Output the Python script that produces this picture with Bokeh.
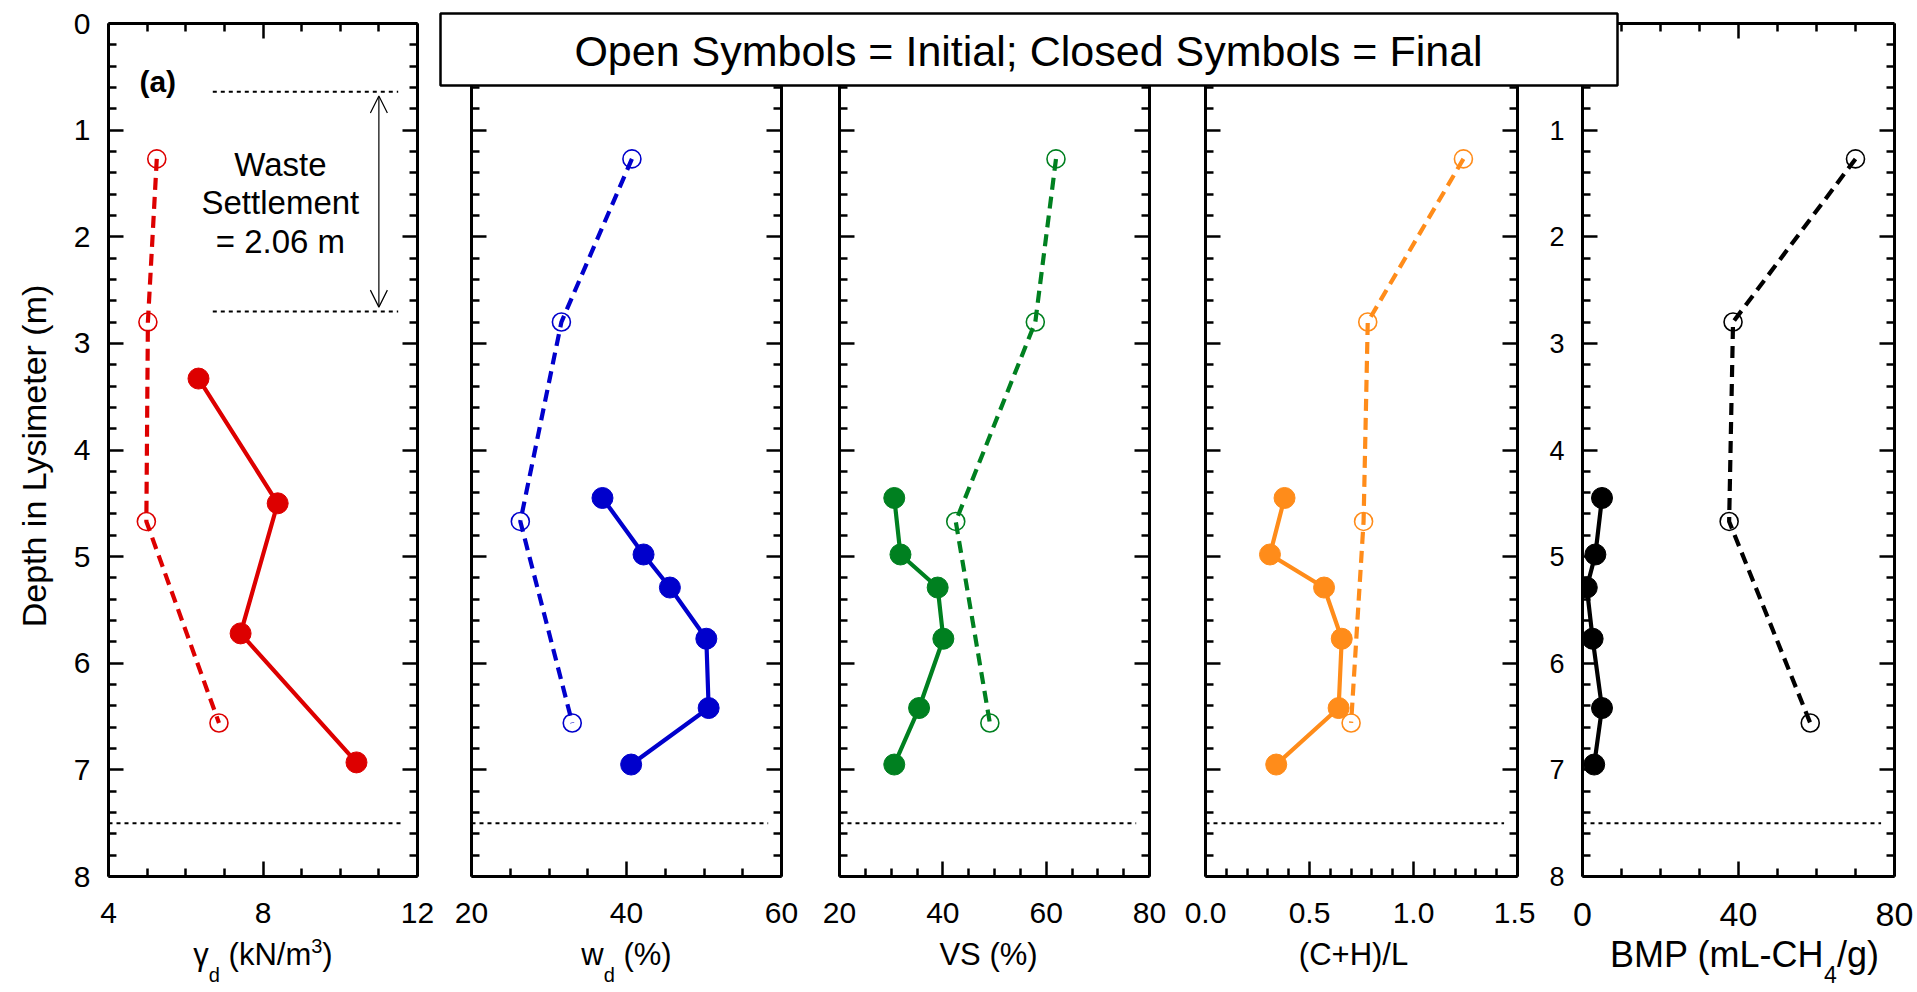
import math

from bokeh.plotting import figure
from bokeh.models import (Range1d, LinearAxis, FixedTicker, Label, Arrow,
                          OpenHead, NumeralTickFormatter)
from bokeh.layouts import row, column
from bokeh.embed import file_html
from bokeh.resources import INLINE

# ---------------------------------------------------------------- data
# sampling depths in the lysimeter (m)
depth_initial = [1.27, 2.80, 4.67, 6.56]
depth_final_unit_weight = [3.33, 4.50, 5.72, 6.93]
depth_final = [4.45, 4.98, 5.29, 5.77, 6.42, 6.95]

# dry unit weight (kN/m3)
unit_weight_initial = [5.25, 5.02, 4.98, 6.86]
unit_weight_final = [6.33, 8.38, 7.42, 10.42]
# gravimetric water content, dry basis (%)
water_initial = [40.7, 31.6, 26.3, 33.0]
water_final = [36.9, 42.2, 45.6, 50.3, 50.6, 40.6]
# volatile solids (%)
vs_initial = [61.9, 57.9, 42.5, 49.1]
vs_final = [30.6, 31.8, 39.0, 40.1, 35.4, 30.6]
# (cellulose + hemicellulose) / lignin
chl_initial = [1.24, 0.78, 0.76, 0.70]
chl_final = [0.38, 0.31, 0.57, 0.655, 0.64, 0.34]
# biochemical methane potential (mL-CH4/g)
bmp_initial = [70.0, 38.6, 37.6, 58.4]
bmp_final = [5.0, 3.3, 1.1, 2.6, 5.0, 3.0]

# waste surface before / after settlement and base of the waste (m)
surface_depths = [0.64, 2.70]
base_depth = 7.50

# axis ticks
depth_ticks = [0, 1, 2, 3, 4, 5, 6, 7, 8]
unit_weight_ticks = [4, 8, 12]
water_ticks = [20, 40, 60]
vs_ticks = [20, 40, 60, 80]
chl_ticks = [0.0, 0.5, 1.0, 1.5]
bmp_ticks = [0, 40, 80]

legend_text = "Open Symbols = Initial; Closed Symbols = Final"
depth_title = "Depth in Lysimeter (m)"

# ---------------------------------------------------------------- layout / style
FONT = "Liberation Sans"
PAGE_W, PAGE_H = 1917, 992
FRAME_TOP = 23
FRAME_BOTTOM = 876
TICK_FS = "30px"
TITLE_FS = 31
SMALL_FS = 20

# panel canvases: (canvas width, left border, right border); frames are placed
# side by side at these pixel offsets
PANEL_GEOM = [(444, 108, 27), (366, 27, 29), (367, 29, 28), (358, 28, 18), (382, 47, 23)]

# approximate advance widths (1/1000 em) used to lay out mixed-size titles
ADV = {' ': 278, '%': 889, '(': 333, ')': 333, '+': 584, '-': 333, '/': 278,
       '.': 278, 'B': 667, 'C': 722, 'H': 722, 'L': 556, 'M': 833, 'N': 722,
       'P': 667, 'S': 667, 'V': 667, 'd': 556, 'g': 556, 'k': 500, 'm': 833,
       'w': 722, 'γ': 500}
for _c in "0123456789":
    ADV[_c] = 556


def text_width(s, size):
    return sum(ADV.get(c, 556) for c in s) * size / 1000.0


def minor_list(lo, hi, step, majors):
    n = int(round((hi - lo) / step))
    vals = [round(lo + i * step, 6) for i in range(n + 1)]
    return [v for v in vals if all(abs(v - m) > 1e-9 for m in majors)]


def make_axis(ticker, show_labels, size=TICK_FS, standoff=18, formatter=None):
    kw = dict(ticker=ticker, axis_line_width=3, axis_line_color="black",
              major_tick_in=15, major_tick_out=0, minor_tick_in=8, minor_tick_out=0,
              major_tick_line_width=2.5, minor_tick_line_width=2.5,
              major_tick_line_color="black", minor_tick_line_color="black",
              major_label_text_font=FONT)
    if show_labels:
        kw.update(major_label_text_font_size=size, major_label_text_color="black",
                  major_label_standoff=standoff)
    else:
        # mirrored axis: tick marks only
        kw.update(major_label_text_font_size="8px", major_label_text_color=None,
                  major_label_standoff=0)
    if formatter is not None:
        kw["formatter"] = formatter
    return LinearAxis(**kw)


def make_panel(geom, xlim, xticks, xstep, y_labels, y_major,
               y_label_size=TICK_FS, x_label_size=TICK_FS, formatter=None):
    width, left, right = geom
    p = figure(width=width, height=PAGE_H,
               x_range=Range1d(*xlim), y_range=Range1d(8, 0),
               x_axis_type=None, y_axis_type=None,
               toolbar_location=None, output_backend="svg",
               min_border_left=left, min_border_right=right,
               min_border_top=FRAME_TOP, min_border_bottom=PAGE_H - FRAME_BOTTOM,
               outline_line_color=None,
               background_fill_color="white", border_fill_color="white")
    xt = FixedTicker(ticks=xticks, minor_ticks=minor_list(xlim[0], xlim[1], xstep, xticks))
    yt = FixedTicker(ticks=y_major, minor_ticks=minor_list(0, 8, 0.2, depth_ticks))
    p.add_layout(make_axis(xt, True, size=x_label_size, standoff=26,
                           formatter=formatter), "below")
    p.add_layout(make_axis(xt, False), "above")
    p.add_layout(make_axis(yt, y_labels, size=y_label_size, standoff=18), "left")
    p.add_layout(make_axis(yt, False), "right")
    return p


def add_profiles(p, x_init, d_init, x_fin, d_fin, color):
    p.line(x_init, d_init, line_color=color, line_width=4.2, line_dash="12 7")
    p.scatter(x_init, d_init, size=18, marker="circle", fill_color=None,
              line_color=color, line_width=1.6)
    p.line(x_fin, d_fin, line_color=color, line_width=4.2)
    p.scatter(x_fin, d_fin, size=21, marker="circle", fill_color=color,
              line_color=color)


def add_base_line(p, xlim):
    span = xlim[1] - xlim[0]
    p.line([xlim[0], xlim[1] - 0.043 * span], [base_depth, base_depth],
           line_color="black", line_width=2, line_dash="4 4")


# ---------------------------------------------------------------- panels
# dry unit weight
lim1 = (4, 12)
p1 = make_panel(PANEL_GEOM[0], lim1, unit_weight_ticks, 1, True, depth_ticks)
add_profiles(p1, unit_weight_initial, depth_initial,
             unit_weight_final, depth_final_unit_weight, "#dd0000")
add_base_line(p1, lim1)
for d in surface_depths:
    p1.line([6.7, 11.5], [d, d], line_color="black", line_width=2, line_dash="4 4")
p1.add_layout(Arrow(start=OpenHead(size=17, line_width=1.2, line_color="black"),
                    end=OpenHead(size=17, line_width=1.2, line_color="black"),
                    x_start=11.0, y_start=surface_depths[0] + 0.04,
                    x_end=11.0, y_end=surface_depths[1] - 0.04,
                    line_width=1.2, line_color="black"))
settlement = surface_depths[1] - surface_depths[0]
for txt, d in zip(["Waste", "Settlement", f"= {settlement:.2f} m"], [1.32, 1.68, 2.04]):
    p1.add_layout(Label(x=8.45, y=d, text=txt, text_font=FONT, text_font_size="33px",
                        text_align="center", text_baseline="middle", text_color="black"))
p1.add_layout(Label(x=4.8, y=0.54, text="(a)", text_font=FONT, text_font_size="30px",
                    text_font_style="bold", text_align="left", text_baseline="middle",
                    text_color="black"))

# water content
lim2 = (20, 60)
p2 = make_panel(PANEL_GEOM[1], lim2, water_ticks, 5, False, depth_ticks)
add_profiles(p2, water_initial, depth_initial, water_final, depth_final, "#0000cc")
add_base_line(p2, lim2)

# volatile solids
lim3 = (20, 80)
p3 = make_panel(PANEL_GEOM[2], lim3, vs_ticks, 5, False, depth_ticks)
add_profiles(p3, vs_initial, depth_initial, vs_final, depth_final, "#008020")
add_base_line(p3, lim3)

# (C+H)/L
lim4 = (0, 1.5)
p4 = make_panel(PANEL_GEOM[3], lim4, chl_ticks, 0.1, False, depth_ticks,
                formatter=NumeralTickFormatter(format="0.0"))
add_profiles(p4, chl_initial, depth_initial, chl_final, depth_final, "#ff8c1a")
add_base_line(p4, lim4)

# BMP
lim5 = (0, 80)
p5 = make_panel(PANEL_GEOM[4], lim5, bmp_ticks, 10, True, depth_ticks[1:],
                y_label_size="27px", x_label_size="34px")
add_profiles(p5, bmp_initial, depth_initial, bmp_final, depth_final, "black")
add_base_line(p5, lim5)

# ---------------------------------------------------------------- titles & legend
# a transparent page-sized layer (pixel coordinates, y downwards) laid over the
# panels; it carries the axis titles and the legend box
ov = figure(width=PAGE_W, height=PAGE_H, x_range=Range1d(0, PAGE_W),
            y_range=Range1d(PAGE_H, 0), x_axis_type=None, y_axis_type=None,
            toolbar_location=None, output_backend="svg", min_border=0,
            outline_line_color=None, background_fill_alpha=0, border_fill_alpha=0)

# frame centres of the five panels
centres = []
x0 = 0
for w, l, r in PANEL_GEOM:
    centres.append(x0 + l + (w - l - r) / 2.0)
    x0 += w


def axis_title(cx, parts, size=TITLE_FS, small=SMALL_FS, centre_y=954):
    """parts: list of (text, kind) with kind 'n', 'sub' or 'sup'."""
    sizes = [size if k == "n" else small for _, k in parts]
    total = sum(text_width(t, s) for (t, _), s in zip(parts, sizes))
    x = cx - total / 2.0
    for (t, k), s in zip(parts, sizes):
        lead = len(t) - len(t.lstrip(" "))
        body = t.strip(" ")
        x += text_width(" " * lead, s)
        dy = {"n": 0, "sub": 20, "sup": -9}[k]
        ov.add_layout(Label(x=x, y=centre_y + dy, text=body, text_font=FONT,
                            text_font_size=f"{s}px", text_color="black",
                            text_align="left", text_baseline="middle"))
        x += text_width(t.lstrip(" "), s)


axis_title(centres[0], [("γ", "n"), ("d", "sub"), (" (kN/m", "n"), ("3", "sup"), (")", "n")])
axis_title(centres[1], [("w", "n"), ("d", "sub"), (" (%)", "n")])
axis_title(centres[2] - 6, [("VS (%)", "n")])
axis_title(centres[3] - 8, [("(C+H)/L", "n")])
axis_title(centres[4] + 6, [("BMP (mL-CH", "n"), ("4", "sub"), ("/g)", "n")],
           size=36, small=23)

ov.add_layout(Label(x=33, y=(FRAME_TOP + FRAME_BOTTOM) / 2 + 6, text=depth_title,
                    angle=math.pi / 2, text_font=FONT, text_font_size="34px",
                    text_align="center", text_baseline="middle", text_color="black"))

# legend box spanning the tops of panels 2-5
ov.quad(left=[440], right=[1617], top=[13], bottom=[85], fill_color="white",
        line_color="black", line_width=2.5)
ov.add_layout(Label(x=1028, y=50, text=legend_text, text_align="center",
                    text_baseline="middle", text_font=FONT,
                    text_font_size="43px", text_color="black"))
ov.margin = (-PAGE_H, 0, 0, 0)

layout = column(row(p1, p2, p3, p4, p5, spacing=0), ov, spacing=0)

with open("out.html", "w") as f:
    f.write(file_html(layout, INLINE))
